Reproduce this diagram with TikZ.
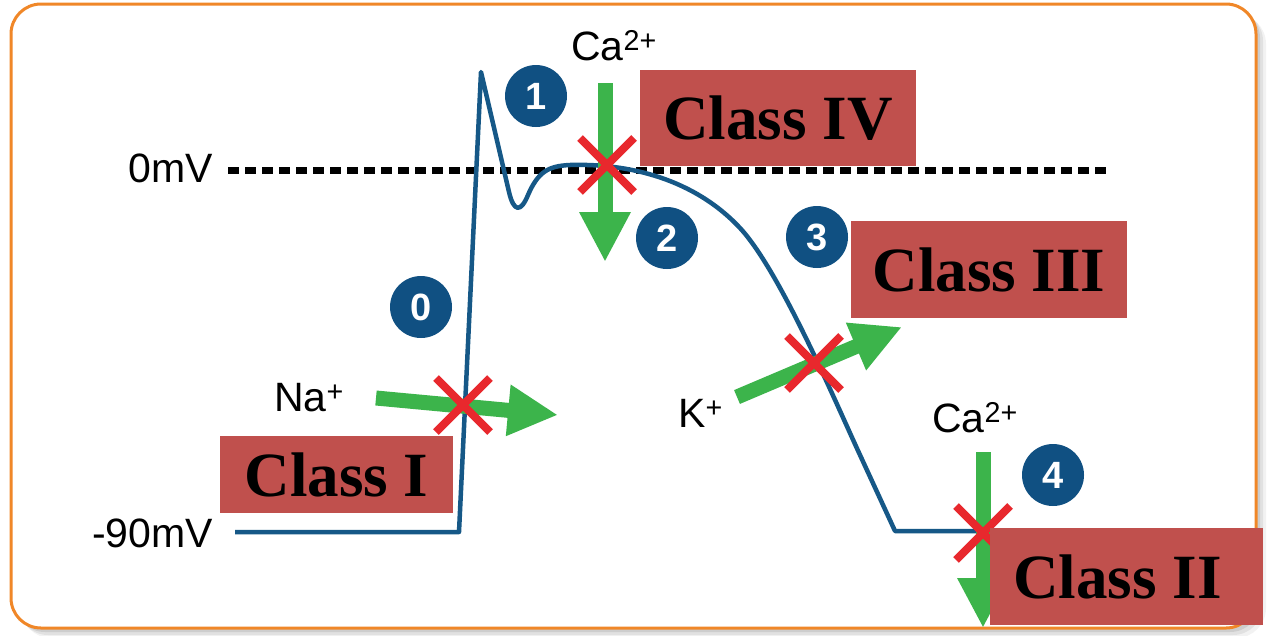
\documentclass[tikz,border=0pt]{standalone}
\usepackage{fontspec}
\setmainfont{Liberation Serif}
\newfontfamily\labfont{Liberation Sans}
\usetikzlibrary{arrows.meta}
\definecolor{bordorange}{RGB}{240,135,40}
\definecolor{clsred}{RGB}{192,80,77}
\definecolor{cblue}{RGB}{16,80,130}
\definecolor{curveblue}{RGB}{22,88,135}
\definecolor{agreen}{RGB}{60,180,75}
\definecolor{xred}{RGB}{232,40,45}
\begin{document}
\begin{tikzpicture}[x=1pt,y=-1pt,
  lbl/.style={font=\labfont\fontsize{41}{46}\selectfont, inner sep=0pt},
  clsbox/.style={fill=clsred, inner sep=0pt, font=\bfseries\fontsize{63}{70}\selectfont, text=black},
  numc/.style={circle, fill=cblue, minimum size=62pt, inner sep=0pt, text=white, font=\labfont\bfseries\fontsize{38}{38}\selectfont},
  garrow/.style={draw=agreen, line width=15pt, -{Triangle[length=50pt,width=48pt]}},
  xmark/.style={draw=xred, line width=8pt},
  apcurve/.style={draw=curveblue, line width=4.5pt, line join=round}
]
\useasboundingbox (0,0) rectangle (1268,635);
% shadow
\foreach \o/\op in {10/0.05,7/0.07,4/0.09}
  \fill[black, opacity=\op, rounded corners=30pt] (11+\o,4+\o) rectangle (1256+\o,628+\o);
% border
\draw[draw=bordorange, line width=3pt, fill=white, rounded corners=30pt] (11,4) rectangle (1256,628);

% dashed 0 mV line
\coordinate (d0) at (228,170);
\coordinate (d1) at (1108,170);
\draw[line width=7pt, dash pattern=on 11pt off 6pt] (d0) -- (d1);

% action potential
\draw[apcurve] (235,532) -- (459,532) -- (481,72) -- (509,192)
  .. controls (514,213) and (521,212) .. (528,195)
  .. controls (538,172) and (548,166) .. (570,165)
  .. controls (640,163) and (700,185) .. (740,228)
  .. controls (780,271) and (835,401) .. (860,455)
  -- (895,531) -- (1103,531);

% green arrows
\coordinate (na1) at (376,398); \coordinate (na2) at (558,415);
\coordinate (ca1) at (605,83);  \coordinate (ca2) at (605,262);
\coordinate (k1) at (737,397);  \coordinate (k2) at (902,327);
\coordinate (cb1) at (983,452); \coordinate (cb2) at (983,628);
\draw[garrow] (na1) -- (na2);
\draw[garrow] (ca1) -- (ca2);
\draw[garrow] (k1) -- (k2);
\draw[garrow] (cb1) -- (cb2);

% red crosses
\foreach \cx/\cy in {463/405, 607/165, 814/363, 983/533}{
  \coordinate (xc) at (\cx,\cy);
  \draw[xmark] ([shift={(-27,-27)}]xc) -- ([shift={(27,27)}]xc);
  \draw[xmark] ([shift={(-27,27)}]xc) -- ([shift={(27,-27)}]xc);
}

% class boxes
\node[clsbox, minimum width=276pt, minimum height=96pt] (c4) at (778,118) {Class IV};
\node[clsbox, minimum width=276pt, minimum height=97pt] (c3) at (989,269.5) {Class III};
\node[clsbox, minimum width=233pt, minimum height=77pt] (c1) at (336.5,474.5) {Class I};
\node[clsbox, minimum width=273pt, minimum height=97pt] (c2) at (1126.5,576.5) {Class II\hspace*{18pt}};

% numbered circles
\node[numc] (n0) at (421,307) {0};
\node[numc] (n1) at (536,96) {1};
\node[numc] (n2) at (667,238) {2};
\node[numc] (n3) at (817,237) {3};
\node[numc] (n4) at (1053,475) {4};

% labels
\node[lbl, anchor=base east] (l0) at (213,182) {0mV};
\node[lbl, anchor=base east] (l90) at (213,547) {-90mV};
\node[lbl, anchor=base west] (lna) at (274,411) {Na\textsuperscript{+}};
\node[lbl, anchor=base west] (lk) at (678,427) {K\textsuperscript{+}};
\node[lbl, anchor=base west] (lca) at (571,60) {Ca\textsuperscript{2+}};
\node[lbl, anchor=base west] (lcb) at (932,432) {Ca\textsuperscript{2+}};
\end{tikzpicture}
\end{document}
